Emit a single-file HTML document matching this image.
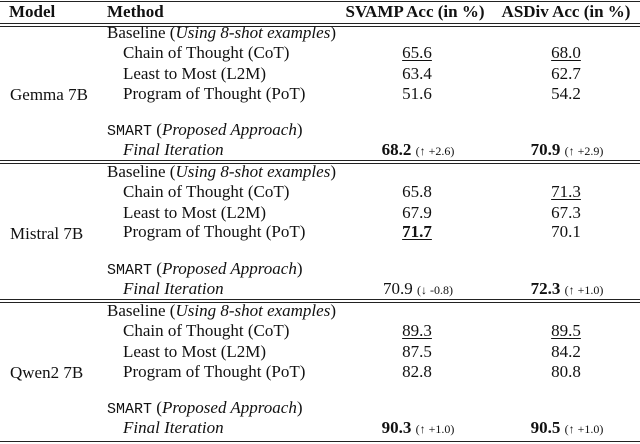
<!DOCTYPE html>
<html><head><meta charset="utf-8"><style>
body{margin:0;background:#fff;}
#t{position:relative;width:640px;height:444px;overflow:hidden;font-family:"Liberation Serif",serif;font-size:17px;color:#111;}
.x{position:absolute;white-space:nowrap;line-height:18px;}
.r{position:absolute;left:0;width:640px;background:#222;}
.c{transform:translateX(-50%);}
.u{text-decoration:underline;text-underline-offset:2px;}
.b{font-weight:bold;}
.s{font-size:12px;font-weight:normal;}
.m{font-family:"Liberation Mono",monospace;font-size:15px;}
</style></head><body>
<div id="t"></div>
<script>
const models=["Gemma 7B","Mistral 7B","Qwen2 7B"];
const svamp=[["65.6","63.4","51.6","68.2","↑ +2.6"],["65.8","67.9","71.7","70.9","↓ -0.8"],["89.3","87.5","82.8","90.3","↑ +1.0"]];
const asdiv=[["68.0","62.7","54.2","70.9","↑ +2.9"],["71.3","67.3","70.1","72.3","↑ +1.0"],["89.5","84.2","80.8","90.5","↑ +1.0"]];
const svampCls=[["u","","","b"],["","","b u",""],["u","","","b"]];
const asdivCls=[["u","","","b"],["u","","","b"],["u","","","b"]];
const methods=["Chain of Thought (CoT)","Least to Most (L2M)","Program of Thought (PoT)"];
const T=document.getElementById('t');
function txt(x,y,html,cls,name){const d=document.createElement('div');d.className='x '+(cls||'');d.style.left=x+'px';d.style.top=(y-9)+'px';d.innerHTML=html;


T.appendChild(d);return d;}
function rule(y,h,name){const d=document.createElement('div');d.className='r';d.style.top=y+'px';d.style.height=h+'px';


T.appendChild(d);}
rule(0.5,1.5,'top-rule');
txt(9,12,'Model','b','header-model');
txt(107,12,'Method','b','header-method');
txt(415,12,'SVAMP Acc (in %)','b c','header-svamp');
txt(566,12,'ASDiv Acc (in %)','b c','header-asdiv');
const base=[33,172,311], rowH=20.3;
const dbl=[23,160,299,441];
dbl.forEach((y,i)=>{rule(y,1,'double-rule-'+i+'-a');rule(y+2.5,1,'double-rule-'+i+'-b');});
models.forEach((m,g)=>{
  const b=base[g];
  txt(10,b+62,m,'','model-name');
  txt(107,b,'Baseline (<i>Using 8-shot examples</i>)','','baseline-label');
  methods.forEach((mm,i)=>{
    const y=b+rowH*(i+1)+(g==1&&i==2?-1:0);
    txt(123,y,mm,'','method-name');
    txt(417,y,svamp[g][i],'c '+svampCls[g][i],'svamp-value');
    txt(566,y,asdiv[g][i],'c '+asdivCls[g][i],'asdiv-value');
  });
  const ys=b+97, yf=b+117;
  txt(107,ys,'<span class="m">SMART</span> (<i>Proposed Approach</i>)','','smart-label');
  txt(123,yf,'<i>Final Iteration</i>','','final-iteration-label');
  txt(418,yf,svamp[g][3]+' <span class="s">('+svamp[g][4]+')</span>','c '+svampCls[g][3],'svamp-final');
  txt(567,yf,asdiv[g][3]+' <span class="s">('+asdiv[g][4]+')</span>','c '+asdivCls[g][3],'asdiv-final');
});
</script>
</body></html>
